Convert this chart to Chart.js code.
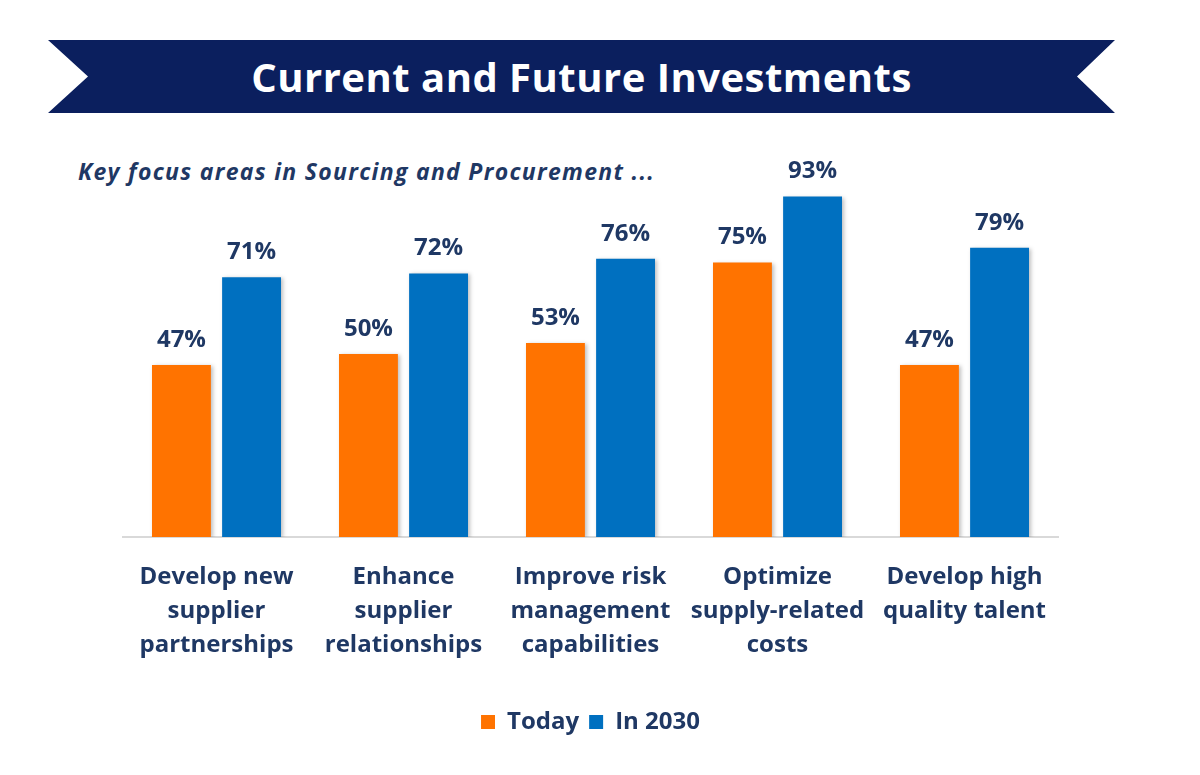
<!DOCTYPE html>
<html>
<head>
<meta charset="utf-8">
<script src="https://cdn.jsdelivr.net/npm/chart.js@4/dist/chart.umd.min.js"></script>
<style>
  html, body { margin:0; padding:0; background:#fff; }
  #wrap { position:relative; width:1200px; height:775px; overflow:hidden; }
  #banner { position:absolute; left:48px; top:40px; width:1067px; height:73px; background:#0B1F5E;
    clip-path: polygon(0 0, 100% 0, calc(100% - 38px) 50%, 100% 100%, 0 100%, 40px 50%); }
  #title { position:absolute; left:48px; top:40px; width:1067px; height:73px; line-height:73px; text-align:center;
    color:#fff; font-family:"Open Sans", sans-serif; font-weight:700; font-size:40px; letter-spacing:0.5px; }
  #subtitle { position:absolute; left:78px; top:155px; color:#1F3864; font-family:"Open Sans", sans-serif;
    font-weight:700; font-style:italic; font-size:23px; letter-spacing:1.3px; }
  canvas { position:absolute; left:0; top:0; }
</style>
</head>
<body>
<div id="wrap">
  <div id="banner"></div>
  <div id="title">Current and Future Investments</div>
  <div id="subtitle">Key focus areas in Sourcing and Procurement ...</div>
  <canvas id="c" width="1200" height="775"></canvas>
</div>
<script>
const categories = [
  ["Develop new", "supplier", "partnerships"],
  ["Enhance", "supplier", "relationships"],
  ["Improve risk", "management", "capabilities"],
  ["Optimize", "supply-related", "costs"],
  ["Develop high", "quality talent"]
];
const seriesNames = ["Today", "In 2030"];
const todayValues = [47, 50, 53, 75, 47];
const in2030Values = [71, 72, 76, 93, 79];

const NAVY = "#1F3864";
const FONT = "'Open Sans', sans-serif";

const valueLabels = {
  id: "valueLabels",
  afterDatasetsDraw(chart) {
    const ctx = chart.ctx;
    ctx.save();
    ctx.font = "700 24px " + FONT;
    ctx.fillStyle = NAVY;
    ctx.textAlign = "center";
    ctx.textBaseline = "middle";
    chart.data.datasets.forEach((ds, i) => {
      const meta = chart.getDatasetMeta(i);
      meta.data.forEach((el, j) => {
        ctx.fillText(ds.data[j] + "%", el.x, el.y - 25);
      });
    });
    ctx.restore();
  }
};

const barShadow = {
  id: "barShadow",
  beforeDatasetsDraw(chart) {
    chart.ctx.save();
    chart.ctx.shadowColor = "rgba(0,0,0,0.25)";
    chart.ctx.shadowBlur = 4;
    chart.ctx.shadowOffsetX = 2;
    chart.ctx.shadowOffsetY = 1;
  },
  afterDatasetsDraw(chart) {
    chart.ctx.restore();
  }
};

new Chart(document.getElementById("c"), {
  type: "bar",
  data: {
    labels: categories,
    datasets: [
      { label: seriesNames[0], data: todayValues, backgroundColor: "#FF7300" },
      { label: seriesNames[1], data: in2030Values, backgroundColor: "#0070C0" }
    ]
  },
  options: {
    responsive: false,
    animation: false,
    layout: { padding: { left: 123, right: 142, top: 171, bottom: 31 } },
    datasets: { bar: { categoryPercentage: 0.75, barPercentage: 0.84 } },
    scales: {
      x: {
        grid: { display: false },
        border: { display: true, color: "#D9D9D9", width: 2 },
        ticks: { color: NAVY, font: { family: FONT, weight: "700", size: 24, lineHeight: 1.42 }, padding: 15, maxRotation: 0, autoSkip: false },
        afterFit(scale) { scale.height = 163; }
      },
      y: { display: false, min: 0, max: 100 }
    },
    plugins: {
      legend: {
        position: "bottom",
        labels: { color: NAVY, font: { family: FONT, weight: "700", size: 24 }, boxWidth: 14, boxHeight: 14, padding: 10 }
      },
      tooltip: { enabled: false }
    }
  },
  plugins: [barShadow, valueLabels]
});
</script>
</body>
</html>
